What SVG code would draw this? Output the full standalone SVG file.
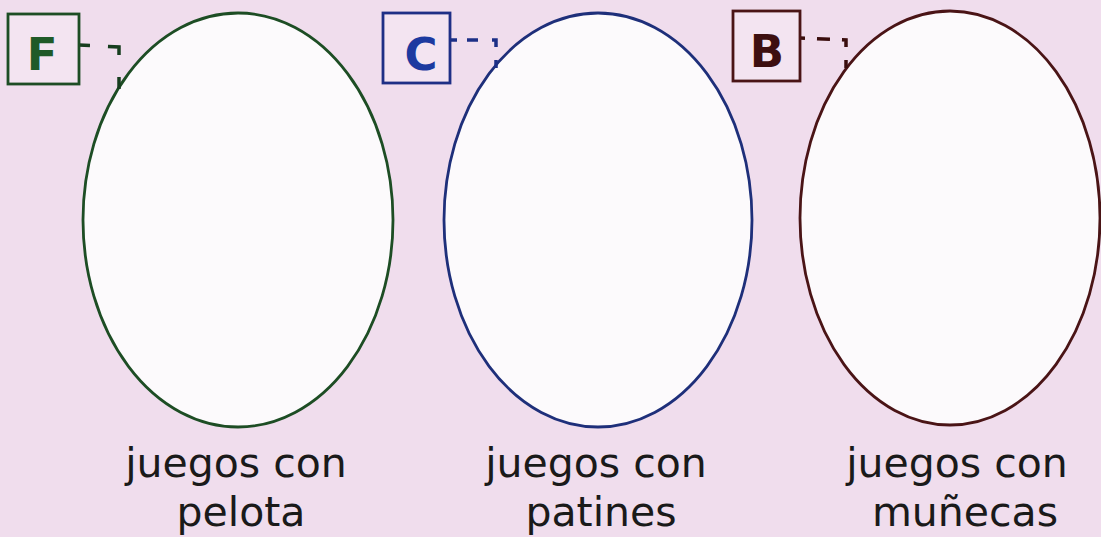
<svg xmlns="http://www.w3.org/2000/svg" width="1101" height="537" viewBox="0 0 1101 537">
<style>
.bg{fill:#f0dded}
.ov{fill:#fcfafc;stroke-width:2.8}
.box{fill:#f3e4f1;stroke-width:2.8}
.let{font-family:"DejaVu Sans",sans-serif;font-weight:bold;font-size:45px;text-anchor:middle}
.lbl{font-family:"DejaVu Sans",sans-serif;font-size:41px;fill:#1a1a1a;text-anchor:middle}
.con{fill:none;stroke-width:3.5}
</style>
<rect class="bg" width="1101" height="537"/>
<g id="oval-pelota">
<ellipse class="ov" stroke="#1d4d24" cx="238" cy="220" rx="155" ry="207"/>
<text class="lbl" x="236" y="477">juegos con</text>
<text class="lbl" x="241" y="526">pelota</text>
</g>
<g id="oval-patines">
<ellipse class="ov" stroke="#1e2f7a" cx="598" cy="220" rx="154" ry="207"/>
<text class="lbl" x="596" y="477">juegos con</text>
<text class="lbl" x="601" y="526">patines</text>
</g>
<g id="oval-munecas">
<ellipse class="ov" stroke="#4a1416" cx="950" cy="218" rx="150" ry="207"/>
<text class="lbl" x="957" y="477">juegos con</text>
<text class="lbl" x="965" y="526">muñecas</text>
</g>
<g id="connectors">
<polyline class="con" stroke="#163d1e" stroke-dasharray="11 18 19 22 12" points="79,45 119,47 119,90"/>
<polyline class="con" stroke="#1c2f86" stroke-dasharray="7 10 11 14 11 13 8" points="450,40 496,40 496,70"/>
<polyline class="con" stroke="#3a0d0d" stroke-dasharray="5 12 13 12 11 13 8" points="800,38 846,40 846,69"/>
</g>
<g id="box-F">
<rect class="box" stroke="#1d4d24" x="8" y="14" width="71" height="70"/>
<text class="let" fill="#1f5a28" x="42" y="70">F</text>
</g>
<g id="box-C">
<rect class="box" stroke="#1e2f86" x="383" y="13" width="67" height="70"/>
<text class="let" fill="#1c3aa0" x="421" y="70">C</text>
</g>
<g id="box-B">
<rect class="box" stroke="#4a1416" x="733" y="11" width="67" height="70"/>
<text class="let" fill="#3d0f10" x="767" y="67">B</text>
</g>
</svg>
